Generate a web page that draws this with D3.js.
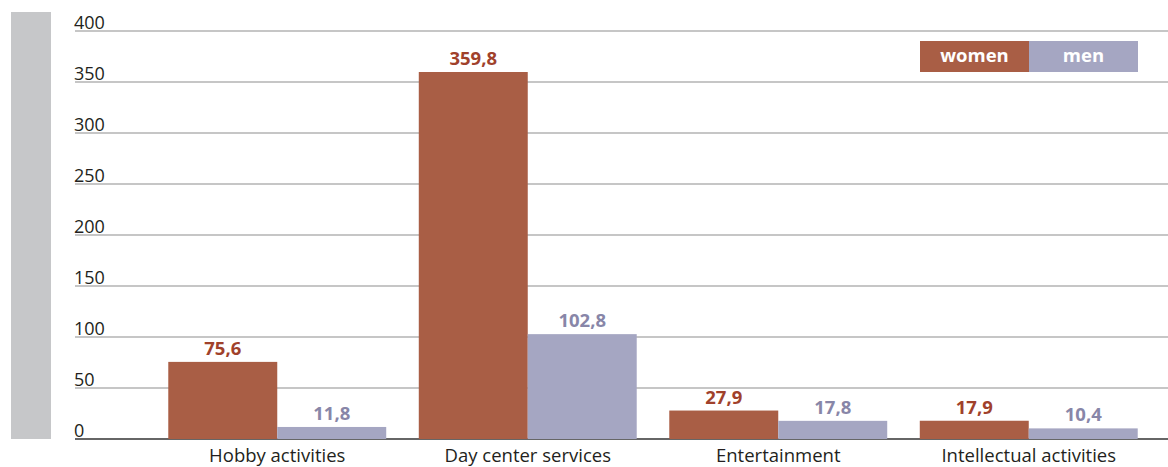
<!DOCTYPE html>
<html>
<head>
<meta charset="utf-8">
<script src="https://cdn.jsdelivr.net/npm/d3@7"></script>
<style>
  html, body { margin: 0; padding: 0; background: #fff; }
  svg { display: block; font-family: "Open Sans", "Noto Sans", sans-serif; }
</style>
</head>
<body>
<svg id="chart" width="1168" height="467"></svg>
<script>
const categories = ["Hobby activities", "Day center services", "Entertainment", "Intellectual activities"];
const seriesNames = ["women", "men"];
const women = [75.6, 359.8, 27.9, 17.9];
const men = [11.8, 102.8, 17.8, 10.4];
const yTicks = [0, 50, 100, 150, 200, 250, 300, 350, 400];

const barColors = { women: "#a95e45", men: "#a5a6c2" };
const labelColors = { women: "#a0412b", men: "#8886a8" };

const svg = d3.select("#chart");
const W = 1168;

const y = d3.scaleLinear().domain([0, 400]).range([439, 31]);
const x = d3.scaleBand().domain(categories).range([152, 1154]).paddingInner(0.13).paddingOuter(0.065);
const xs = d3.scaleBand().domain(seriesNames).range([0, x.bandwidth()]);

// grey side strip
svg.append("rect").attr("x", 11).attr("y", 12).attr("width", 40).attr("height", 427).attr("fill", "#c6c7c9");

// horizontal grid lines with tick labels sitting above them
const grid = svg.append("g");
yTicks.forEach(t => {
  grid.append("line")
    .attr("x1", 75).attr("x2", W)
    .attr("y1", y(t)).attr("y2", y(t))
    .attr("stroke", t === 0 ? "#333" : "#b3b3b3")
    .attr("stroke-width", t === 0 ? 1.3 : 1.5);
  grid.append("text")
    .attr("x", 74).attr("y", y(t) - 2.5)
    .attr("font-size", 18).attr("fill", "#231f20")
    .text(t);
});

// bars
const data = categories.map((c, i) => ({ cat: c, values: [{ s: "women", v: women[i] }, { s: "men", v: men[i] }] }));
const groups = svg.append("g").selectAll("g").data(data).join("g")
  .attr("transform", d => `translate(${x(d.cat)},0)`);

groups.selectAll("rect").data(d => d.values).join("rect")
  .attr("x", d => xs(d.s))
  .attr("y", d => y(d.v))
  .attr("width", xs.bandwidth())
  .attr("height", d => y(0) - y(d.v))
  .attr("fill", d => barColors[d.s]);

groups.selectAll("text.val").data(d => d.values).join("text")
  .attr("class", "val")
  .attr("x", d => xs(d.s) + xs.bandwidth() / 2)
  .attr("y", d => y(d.v) - 7)
  .attr("text-anchor", "middle")
  .attr("font-size", 18.5).attr("font-weight", 700)
  .attr("fill", d => labelColors[d.s])
  .text(d => d.v.toFixed(1).replace(".", ","));

// category labels
svg.append("g").selectAll("text").data(categories).join("text")
  .attr("x", d => x(d) + x.bandwidth() / 2)
  .attr("y", 462)
  .attr("text-anchor", "middle")
  .attr("font-size", 18.5).attr("fill", "#231f20")
  .text(d => d);

// legend
const lg = svg.append("g").attr("transform", "translate(920,41)");
seriesNames.forEach((s, i) => {
  lg.append("rect").attr("x", i * 109).attr("y", 0).attr("width", 109).attr("height", 31).attr("fill", barColors[s]);
  lg.append("text").attr("x", i * 109 + 54.5).attr("y", 21)
    .attr("text-anchor", "middle").attr("font-size", 18.5).attr("font-weight", 700)
    .attr("fill", "#fff").text(s);
});
</script>
</body>
</html>
